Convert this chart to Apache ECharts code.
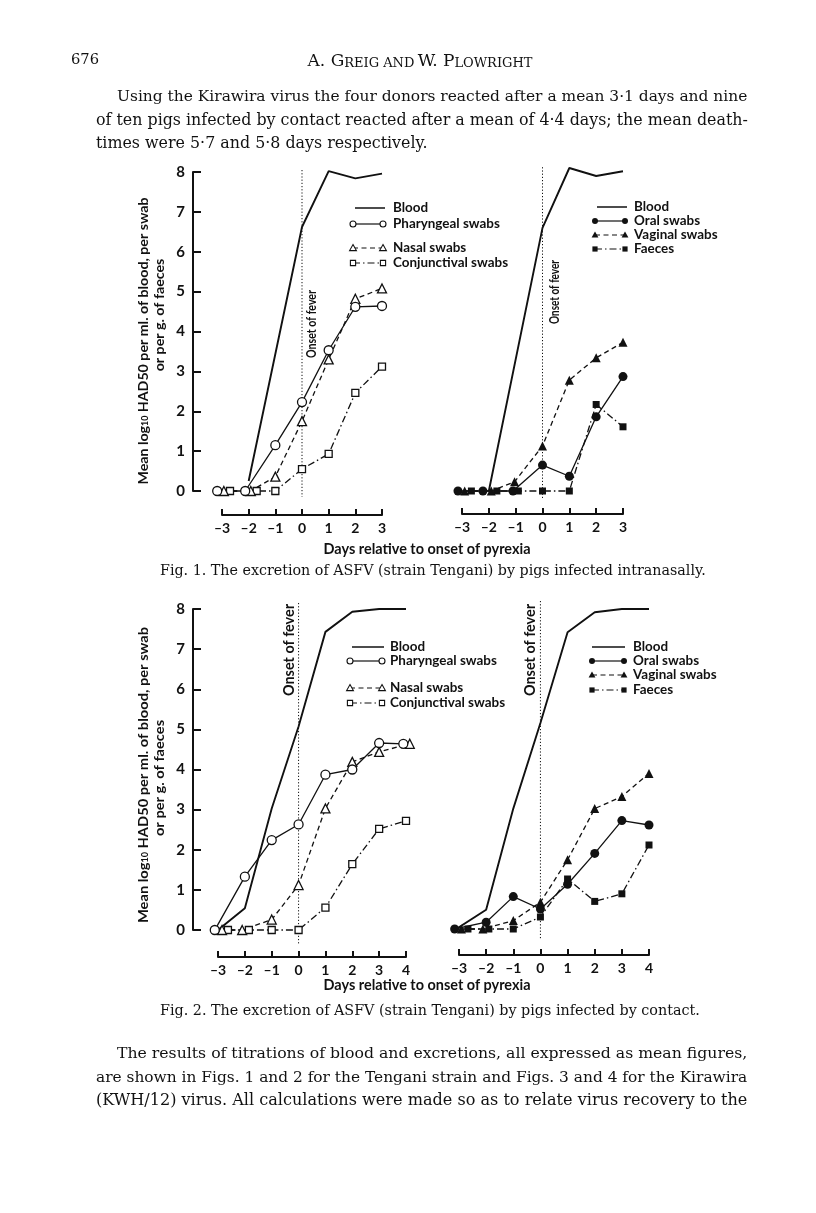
<!DOCTYPE html>
<html><head><meta charset="utf-8">
<script src="https://cdn.jsdelivr.net/npm/echarts@6/dist/echarts.min.js"></script>
<style>html,body{margin:0;padding:0;background:#fff}#c{width:816px;height:1213px}</style>
</head><body><div id="c"></div>
<script>
// ---------------- DATA ----------------
const yTicks = [0, 1, 2, 3, 4, 5, 6, 7, 8];
const xTicksFig1 = [-3, -2, -1, 0, 1, 2, 3];
const xTicksFig2 = [-3, -2, -1, 0, 1, 2, 3, 4];

// Fig. 1, left panel (intranasal)
const f1L_bloodX = [-2, 0, 1, 2, 3];
const f1L_bloodY = [0.25, 6.62, 8.02, 7.84, 7.96];
const f1L_pharX = [-3.18, -2.13, -1, 0, 1, 2, 3];
const f1L_pharY = [0, 0, 1.15, 2.23, 3.53, 4.62, 4.64];
const f1L_nasX = [-2.93, -1.92, -1, 0, 1, 2, 3];
const f1L_nasY = [0, 0, 0.36, 1.75, 3.3, 4.82, 5.08];
const f1L_conjX = [-2.7, -1.7, -1, 0, 1, 2, 3];
const f1L_conjY = [0, 0, 0, 0.55, 0.93, 2.46, 3.12];

// Fig. 1, right panel
const f1R_bloodX = [-2, 0, 1, 2, 3];
const f1R_bloodY = [0, 6.6, 8.1, 7.9, 8.02];
const f1R_oralX = [-3.15, -2.22, -1.1, 0, 1, 2, 3];
const f1R_oralY = [0, 0, 0, 0.65, 0.37, 1.86, 2.87];
const f1R_vagX = [-2.9, -1.91, -1.04, 0, 1, 2, 3];
const f1R_vagY = [0, 0, 0.23, 1.13, 2.78, 3.34, 3.73];
const f1R_faeX = [-2.65, -1.7, -0.9, 0, 1, 2, 3];
const f1R_faeY = [0, 0, 0, 0, 0, 2.17, 1.61];

// Fig. 2, left panel (contact)
const f2L_bloodX = [-3, -2, -1, 0, 1, 2, 3, 4];
const f2L_bloodY = [0, 0.54, 3.03, 5.07, 7.43, 7.93, 8.0, 8.0];
const f2L_pharX = [-3.12, -2, -1, 0, 1, 2, 3, 3.9];
const f2L_pharY = [0, 1.33, 2.24, 2.63, 3.87, 4.0, 4.66, 4.64];
const f2L_nasX = [-2.85, -2.1, -1, 0, 1, 2, 3, 4.14];
const f2L_nasY = [0, 0, 0.26, 1.12, 3.03, 4.19, 4.44, 4.64];
const f2L_conjX = [-2.63, -1.85, -1, 0, 1, 2, 3, 4];
const f2L_conjY = [0, 0, 0, 0, 0.56, 1.64, 2.52, 2.72];

// Fig. 2, right panel
const f2R_bloodX = [-3.1, -2, -1, 0, 1, 2, 3, 4];
const f2R_bloodY = [0, 0.48, 3.01, 5.15, 7.42, 7.92, 8.0, 8.0];
const f2R_oralX = [-3.16, -2, -1, 0, 1, 2, 3, 4];
const f2R_oralY = [0, 0.17, 0.81, 0.5, 1.12, 1.89, 2.71, 2.6];
const f2R_vagX = [-2.91, -2.12, -1, 0, 1, 2, 3, 4];
const f2R_vagY = [0, 0, 0.21, 0.67, 1.73, 3.01, 3.31, 3.89];
const f2R_faeX = [-2.67, -1.9, -1, 0, 1, 2, 3, 4];
const f2R_faeY = [0, 0, 0, 0.3, 1.25, 0.69, 0.88, 2.1];

// onset-of-fever reference line (day 0): vertical extent [top, bottom] in data units per panel
const onsetDay = 0;
const onsetExtent = [[8.05, -0.15], [8.12, -0.22], [8.15, -0.37], [8.2, -0.27]];

// ---------------- RENDER ----------------
const chart = echarts.init(document.getElementById('c'), null, {width: 816, height: 1213});
const FIG = 'Lato';
const SERIF = 'DejaVu Serif';
const INK = '#111';

const mctx = document.createElement('canvas').getContext('2d');
function measure(text, size, family, weight) {
  mctx.font = (weight || 'normal') + ' ' + size + 'px "' + family + '"';
  return mctx.measureText(text).width;
}
function fitSize(text, target, family, weight, base) {
  base = base || 16;
  return base * target / measure(text, base, family, weight);
}
const zip = (xs, ys) => xs.map((x, i) => [x, ys[i]]);

const DASH = [5, 3.5];
const DASHDOT = [7, 3, 1.5, 3];

const grids = [
  {left: 222, top: 172, width: 160, height: 319},
  {left: 462, top: 172, width: 161, height: 319},
  {left: 218, top: 609, width: 188, height: 321},
  {left: 459, top: 609, width: 190, height: 320}
];

function xAx(gi, ticks, offset) {
  return {
    type: 'value', gridIndex: gi, min: ticks[0], max: ticks[ticks.length - 1], interval: 1,
    position: 'bottom', offset: offset,
    axisLine: {show: true, onZero: false, lineStyle: {color: INK, width: 2}},
    axisTick: {show: true, inside: true, length: 6, lineStyle: {color: INK, width: 2}},
    axisLabel: {margin: 6, color: INK, fontFamily: FIG, fontWeight: 'bold', fontSize: 14,
      formatter: v => v < 0 ? '\u2013' + Math.abs(v) : String(v)},
    splitLine: {show: false}
  };
}
function yAx(gi, show, offset) {
  return {
    type: 'value', gridIndex: gi, min: yTicks[0], max: yTicks[yTicks.length - 1], interval: 1,
    show: show, position: 'left', offset: offset || 0,
    axisLine: {show: true, onZero: false, lineStyle: {color: INK, width: 2}},
    axisTick: {show: true, inside: true, length: 8, lineStyle: {color: INK, width: 2}},
    axisLabel: {margin: 8, color: INK, fontFamily: FIG, fontWeight: 'bold', fontSize: 15},
    splitLine: {show: false}
  };
}

function onsetLine(gi, ext) {
  return {
    type: 'line', xAxisIndex: gi, yAxisIndex: gi, symbol: 'none', clip: false, z: 1, silent: true,
    data: [[onsetDay, ext[0]], [onsetDay, ext[1]]],
    lineStyle: {color: INK, width: 1, type: [1.2, 2]}
  };
}
function blood(gi, xs, ys) {
  return {
    type: 'line', xAxisIndex: gi, yAxisIndex: gi, data: zip(xs, ys), symbol: 'none',
    clip: false, lineStyle: {color: INK, width: 1.9}, z: 2
  };
}
function marked(gi, xs, ys, symbol, filled, dash, size) {
  return {
    type: 'line', xAxisIndex: gi, yAxisIndex: gi, data: zip(xs, ys),
    symbol: symbol, symbolSize: size, showSymbol: true, clip: false, z: 3,
    lineStyle: {color: INK, width: 1.3, type: dash},
    itemStyle: {color: filled ? INK : '#fff', borderColor: INK, borderWidth: filled ? 0 : 1.3}
  };
}

const series = [
  onsetLine(0, onsetExtent[0]),
  blood(0, f1L_bloodX, f1L_bloodY),
  marked(0, f1L_conjX, f1L_conjY, 'rect', false, DASHDOT, 7),
  marked(0, f1L_nasX, f1L_nasY, 'triangle', false, DASH, 9),
  marked(0, f1L_pharX, f1L_pharY, 'circle', false, 'solid', 9),

  onsetLine(1, onsetExtent[1]),
  blood(1, f1R_bloodX, f1R_bloodY),
  marked(1, f1R_faeX, f1R_faeY, 'rect', true, DASHDOT, 7),
  marked(1, f1R_vagX, f1R_vagY, 'triangle', true, DASH, 9),
  marked(1, f1R_oralX, f1R_oralY, 'circle', true, 'solid', 9),

  onsetLine(2, onsetExtent[2]),
  blood(2, f2L_bloodX, f2L_bloodY),
  marked(2, f2L_conjX, f2L_conjY, 'rect', false, DASHDOT, 7),
  marked(2, f2L_nasX, f2L_nasY, 'triangle', false, DASH, 9),
  marked(2, f2L_pharX, f2L_pharY, 'circle', false, 'solid', 9),

  onsetLine(3, onsetExtent[3]),
  blood(3, f2R_bloodX, f2R_bloodY),
  marked(3, f2R_faeX, f2R_faeY, 'rect', true, DASHDOT, 7),
  marked(3, f2R_vagX, f2R_vagY, 'triangle', true, DASH, 9),
  marked(3, f2R_oralX, f2R_oralY, 'circle', true, 'solid', 9)
];

// ---------- graphic: text and legends ----------
const G = [];
function txt(x, y, text, size, family, weight, align, rot, sx) {
  G.push({type: 'text', x: x, y: y, rotation: rot || 0, scaleX: sx || 1, silent: true,
    style: {text: text, fontSize: size, fontFamily: family, fontWeight: weight || 'normal',
      fill: INK, align: align || 'left', verticalAlign: 'middle'}});
}
function justified(lines, family) {
  let last = 16;
  lines.forEach(l => {
    let s = l[3] ? fitSize(l[0], l[3] - l[1], family, 'normal') : last;
    last = s;
    txt(l[1], l[2], l[0], s, family, 'normal', 'left');
  });
}

// header
txt(71, 60, '676', fitSize('676', 28, SERIF), SERIF);
G.push({type: 'text', x: 420, y: 60, silent: true,
  style: {text: '{a|A. G}{b|REIG AND} {a|W. P}{b|LOWRIGHT}', align: 'center', verticalAlign: 'middle',
    fill: INK, rich: {
      a: {fontSize: 17, fontFamily: SERIF, fill: INK, verticalAlign: 'bottom', lineHeight: 20},
      b: {fontSize: 13, fontFamily: SERIF, fill: INK, verticalAlign: 'bottom', lineHeight: 20}}}});

justified([
  ['Using the Kirawira virus the four donors reacted after a mean 3\u00b71 days and nine', 117, 97, 748],
  ['of ten pigs infected by contact reacted after a mean of 4\u00b74 days; the mean death-', 96, 121, 748],
  ['times were 5\u00b77 and 5\u00b78 days respectively.', 96, 144, null]
], SERIF);
justified([
  ['The results of titrations of blood and excretions, all expressed as mean figures,', 117, 1054, 748],
  ['are shown in Figs. 1 and 2 for the Tengani strain and Figs. 3 and 4 for the Kirawira', 96, 1078, 748],
  ['(KWH/12) virus. All calculations were made so as to relate virus recovery to the', 96, 1101, 748]
], SERIF);

// captions
const cap1 = 'Fig. 1. The excretion of ASFV (strain Tengani) by pigs infected intranasally.';
const cap2 = 'Fig. 2. The excretion of ASFV (strain Tengani) by pigs infected by contact.';
txt(160, 571, cap1, fitSize(cap1, 546, SERIF), SERIF);
txt(160, 1011, cap2, fitSize(cap2, 540, SERIF), SERIF);

// x-axis titles
const xTitle = 'Days relative to onset of pyrexia';
const xts = fitSize(xTitle, 207, FIG, 'bold');
txt(427, 549, xTitle, xts, FIG, 'bold', 'center');
txt(427, 985, xTitle, xts, FIG, 'bold', 'center');

// y-axis titles (rotated), fixed font size, squeezed along the text to the reference length
function yTitle(x1, c1, len1, x2, c2) {
  const fs = 14;
  const t1 = 'Mean log10 HAD50 per ml. of blood, per swab';
  const w1 = measure('Mean log HAD50 per ml. of blood, per swab', fs, FIG, 'bold') + measure('10', fs * 0.62, FIG, 'bold');
  const sx = len1 / w1;
  G.push({type: 'text', x: x1, y: c1, rotation: Math.PI / 2, scaleX: sx, silent: true,
    style: {text: '{n|Mean log}{s|10}{n| HAD50 per ml. of blood, per swab}', align: 'center', verticalAlign: 'middle',
      rich: {n: {fontSize: fs, fontFamily: FIG, fontWeight: 'bold', fill: INK, verticalAlign: 'bottom', lineHeight: fs + 4},
             s: {fontSize: fs * 0.62, fontFamily: FIG, fontWeight: 'bold', fill: INK, verticalAlign: 'bottom', lineHeight: fs + 1}}}});
  txt(x2, c2, 'or per g. of faeces', fs, FIG, 'bold', 'center', Math.PI / 2, sx);
}
yTitle(141, 341, 287, 159, 315);
yTitle(141, 775, 296, 159, 778);

// onset of fever labels
const onset = 'Onset of fever';
function onsetLabel(x, y, fs, len) {
  txt(x, y, onset, fs, FIG, 'bold', 'center', Math.PI / 2, len / measure(onset, fs, FIG, 'bold'));
}
onsetLabel(312, 324, 13.5, 68);
onsetLabel(555, 292, 13.5, 64);
onsetLabel(289, 650, 15.5, 92);
onsetLabel(530, 650, 15.5, 92);

// legends
function sym(kind, filled, cx, cy) {
  const st = {fill: filled ? INK : '#fff', stroke: INK, lineWidth: filled ? 0 : 1.1};
  if (kind === 'circle') G.push({type: 'circle', shape: {cx: cx, cy: cy, r: 3}, style: st, z: 10, silent: true});
  else if (kind === 'triangle') G.push({type: 'polygon', shape: {points: [[cx, cy - 3.4], [cx + 3.4, cy + 2.6], [cx - 3.4, cy + 2.6]]}, style: st, z: 10, silent: true});
  else G.push({type: 'rect', shape: {x: cx - 2.6, y: cy - 2.6, width: 5.2, height: 5.2}, style: st, z: 10, silent: true});
}
function legRow(x1, x2, y, kind, filled, dash, label, tx, fs) {
  G.push({type: 'line', shape: {x1: x1, y1: y, x2: x2, y2: y}, z: 9, silent: true,
    style: {stroke: INK, lineWidth: kind ? 1.2 : 1.5, lineDash: dash || null}});
  if (kind) { sym(kind, filled, x1, y); sym(kind, filled, x2, y); }
  txt(tx, y, label, fs, FIG, 'bold', 'left');
}
const legFs = fitSize('Pharyngeal swabs', 107, FIG, 'bold');
legRow(355, 385, 208, null, false, null, 'Blood', 393, legFs);
legRow(353, 383, 224, 'circle', false, null, 'Pharyngeal swabs', 393, legFs);
legRow(353, 383, 248, 'triangle', false, DASH, 'Nasal swabs', 393, legFs);
legRow(353, 383, 263, 'rect', false, DASHDOT, 'Conjunctival swabs', 393, legFs);

legRow(597, 627, 207, null, true, null, 'Blood', 634, legFs);
legRow(595, 625, 221, 'circle', true, null, 'Oral swabs', 634, legFs);
legRow(595, 625, 235, 'triangle', true, DASH, 'Vaginal swabs', 634, legFs);
legRow(595, 625, 249, 'rect', true, DASHDOT, 'Faeces', 634, legFs);

legRow(352, 384, 647, null, false, null, 'Blood', 390, legFs);
legRow(350, 382, 661, 'circle', false, null, 'Pharyngeal swabs', 390, legFs);
legRow(350, 382, 688, 'triangle', false, DASH, 'Nasal swabs', 390, legFs);
legRow(350, 382, 703, 'rect', false, DASHDOT, 'Conjunctival swabs', 390, legFs);

legRow(592, 625, 647, null, true, null, 'Blood', 633, legFs);
legRow(592, 624, 661, 'circle', true, null, 'Oral swabs', 633, legFs);
legRow(592, 624, 675, 'triangle', true, DASH, 'Vaginal swabs', 633, legFs);
legRow(592, 624, 690, 'rect', true, DASHDOT, 'Faeces', 633, legFs);

chart.setOption({
  animation: false,
  backgroundColor: '#fff',
  grid: grids,
  xAxis: [xAx(0, xTicksFig1, 24), xAx(1, xTicksFig1, 23), xAx(2, xTicksFig2, 27), xAx(3, xTicksFig2, 26)],
  yAxis: [yAx(0, true, 29), yAx(1, false), yAx(2, true, 25), yAx(3, false)],
  series: series,
  graphic: G
});
</script>
</body></html>
